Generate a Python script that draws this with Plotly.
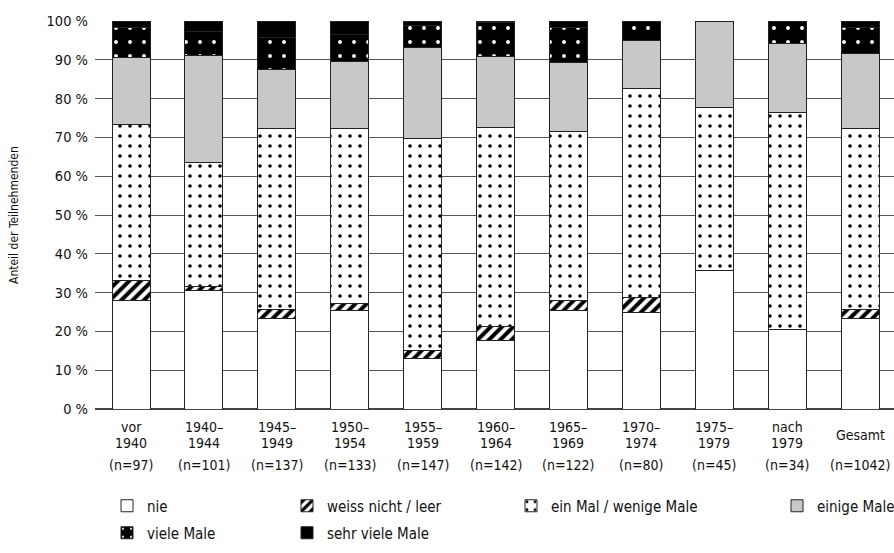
import plotly.graph_objects as go

# ---------------- data ----------------
categories = ["vor 1940", "1940–1944", "1945–1949", "1950–1954", "1955–1959",
              "1960–1964", "1965–1969", "1970–1974", "1975–1979", "nach 1979", "Gesamt"]
label_line1 = ["vor", "1940–", "1945–", "1950–", "1955–", "1960–", "1965–",
               "1970–", "1975–", "nach", "Gesamt"]
label_line2 = ["1940", "1944", "1949", "1954", "1959", "1964", "1969",
               "1974", "1979", "1979", ""]
n_values = [97, 101, 137, 133, 147, 142, 122, 80, 45, 34, 1042]

nie = [27.9, 30.6, 23.4, 25.5, 13.0, 17.7, 25.5, 25.0, 35.8, 20.6, 23.2]
weiss_nicht = [5.3, 1.1, 2.2, 1.7, 2.1, 3.6, 2.5, 3.7, 0, 0, 2.4]
ein_mal = [40.1, 31.8, 46.8, 45.2, 54.5, 51.3, 43.4, 53.9, 42.0, 55.9, 46.6]
einige = [17.4, 27.6, 15.2, 17.2, 23.6, 18.3, 18.0, 12.4, 22.2, 17.7, 19.3]
viele = [7.6, 6.3, 8.2, 6.9, 5.6, 8.6, 8.9, 5.0, 0, 5.8, 6.8]
sehr_viele = [1.7, 2.6, 4.2, 3.5, 1.2, 0.5, 1.7, 0, 0, 0, 1.7]

series_names = ["nie", "weiss nicht / leer", "ein Mal / wenige Male",
                "einige Male", "viele Male", "sehr viele Male"]
series_values = [nie, weiss_nicht, ein_mal, einige, viele, sehr_viele]

y_title = "Anteil der Teilnehmenden"
y_ticks = [0, 10, 20, 30, 40, 50, 60, 70, 80, 90, 100]
y_ticktext = [f"{v} %" for v in y_ticks]

# ---------------- styles ----------------
FONT = "DejaVu Sans Condensed, Liberation Sans Narrow, sans-serif"
OUTLINE = dict(color="#222222", width=1)
GREY = "#c8c8ca"
TXT = "#111111"

styles = [
    dict(color="white"),
    dict(color="white", pattern=dict(shape="/", fillmode="replace", bgcolor="white",
                                     fgcolor="black", size=8, solidity=0.5)),
    dict(color="white", pattern=dict(shape=".", fillmode="replace", bgcolor="white",
                                     fgcolor="black", size=10, solidity=0.1)),
    dict(color=GREY),
    dict(color="black", pattern=dict(shape=".", fillmode="replace", bgcolor="black",
                                     fgcolor="white", size=14, solidity=0.06)),
    dict(color="black"),
]

legend_ids = ["legend2", "legend3", "legend4", "legend5", "legend6", "legend7"]
legend_px = [(107, 506), (287, 506), (511, 506), (777, 506), (107, 533), (287, 533)]

fig = go.Figure()
for name, vals, st, lid in zip(series_names, series_values, styles, legend_ids):
    fig.add_trace(go.Bar(
        x=categories, y=vals, name=name,
        marker=dict(line=OUTLINE, **st),
        legend=lid, hoverinfo="skip", showlegend=True,
    ))

LABEL_SIZE = 14

def lab(cat, text, shift):
    return dict(x=cat, y=0, xref="x", yref="y", text=text, showarrow=False,
                yanchor="middle", yshift=shift,
                font=dict(family=FONT, size=LABEL_SIZE, color=TXT))

annotations = []
for cat, l1, l2, n in zip(categories, label_line1, label_line2, n_values):
    if l2:
        annotations.append(lab(cat, l1, -18))
        annotations.append(lab(cat, l2, -34))
    else:
        annotations.append(lab(cat, l1, -26))
    annotations.append(lab(cat, f"(n={n})", -56))

annotations.append(dict(x=0, y=0.5, xref="paper", yref="paper", text=y_title,
                        showarrow=False, textangle=-90, xanchor="center",
                        yanchor="middle", xshift=-81,
                        font=dict(family=FONT, size=12, color=TXT)))

W, H = 894, 553
layout_legends = {}
for lid, (px, py) in zip(legend_ids, legend_px):
    layout_legends[lid] = dict(
        x=px / W, y=1 - py / H, xref="container", yref="container",
        xanchor="left", yanchor="middle", orientation="v",
        bgcolor="rgba(0,0,0,0)", borderwidth=0,
        font=dict(family=FONT, size=15, color=TXT),
    )

fig.update_layout(
    width=W, height=H,
    margin=dict(l=95, r=0, t=21, b=144, pad=0, autoexpand=False),
    paper_bgcolor="white", plot_bgcolor="white",
    showlegend=True,
    barmode="stack", bargap=0.479,
    font=dict(family=FONT, size=15, color=TXT),
    xaxis=dict(range=[-0.494, 10.466], showticklabels=False, showgrid=False,
               zeroline=False, showline=False, ticks=""),
    yaxis=dict(range=[0, 100], tickvals=y_ticks, ticktext=y_ticktext,
               showgrid=True, gridcolor="#555555", gridwidth=1,
               zeroline=True, zerolinecolor="#444444", zerolinewidth=1.5,
               showline=False, ticks="", ticklabelstandoff=6,
               tickfont=dict(family=FONT, size=14.5, color=TXT)),
    annotations=annotations,
    **layout_legends,
)

fig.write_html("out.html",
               config={"displayModeBar": False},
               post_script="document.body.style.margin='0px';"
                           "document.body.style.overflow='hidden';")
